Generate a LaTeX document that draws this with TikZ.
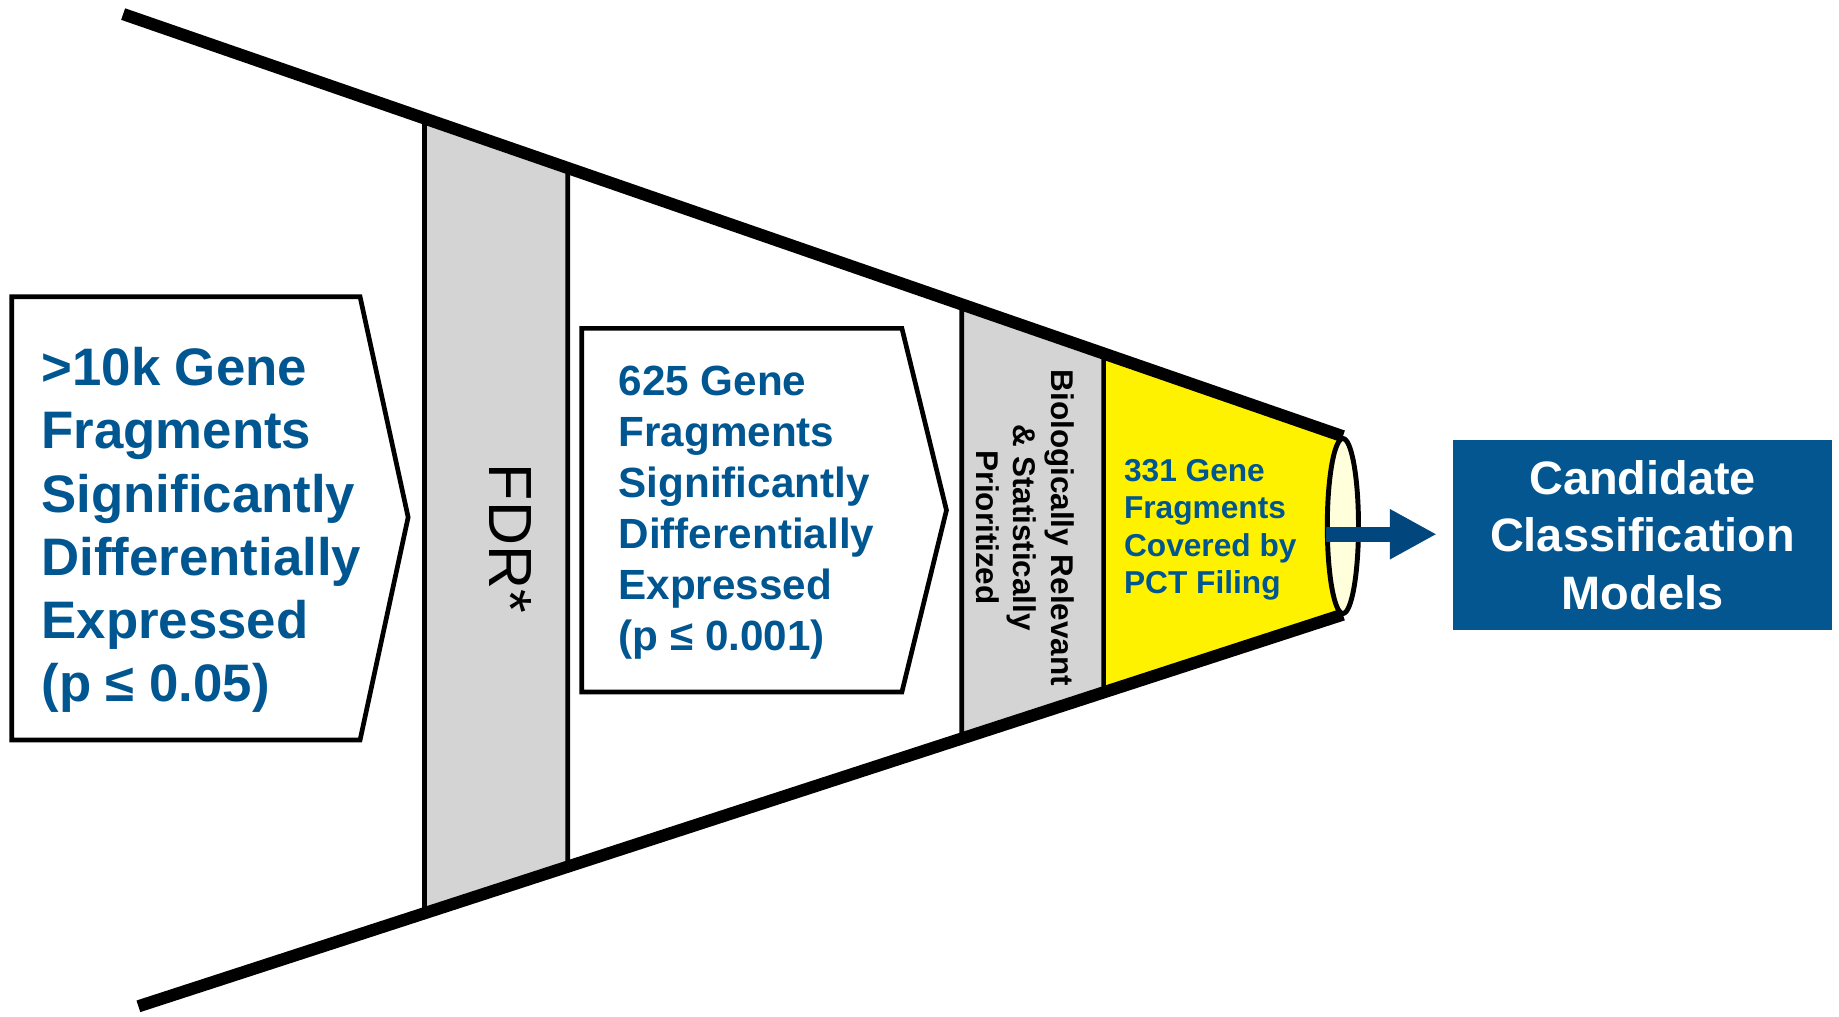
\documentclass[tikz,border=0pt]{standalone}
\usepackage{fontspec}
\setmainfont{Liberation Sans}
\usetikzlibrary{calc,arrows.meta,shapes.geometric}
\definecolor{textblue}{HTML}{005691}
\definecolor{boxblue}{HTML}{03568F}
\definecolor{arrowblue}{HTML}{02467E}
\definecolor{bandgray}{HTML}{D4D4D4}
\definecolor{mouthfill}{HTML}{FFFFDC}

\begin{document}
\begin{tikzpicture}[x=0.5pt,y=-0.5pt,
  funnel/.style={line width=5.2pt},
  divider/.style={line width=2pt},
  tag/.style={draw=black, fill=white, line width=2pt, line join=miter},
  bluetext/.style={text=textblue, anchor=north west, inner sep=0pt, align=left},
  sidetext/.style={rotate=-90, inner sep=0pt, align=center, text=black}
]
\useasboundingbox (0,0) rectangle (1568,867);

% funnel edges
\coordinate (A) at (105,12);
\coordinate (E) at (1145,372);
\coordinate (B) at (118,858);
\coordinate (F) at (1145,524);

% band boundaries on the upper and lower edge
\coordinate (t1) at ($(A)!0.24712!(E)$);
\coordinate (t2) at ($(A)!0.36442!(E)$);
\coordinate (t3) at ($(A)!0.68750!(E)$);
\coordinate (t4) at ($(A)!0.80385!(E)$);
\coordinate (b1) at ($(B)!0.23759!(F)$);
\coordinate (b2) at ($(B)!0.35638!(F)$);
\coordinate (b3) at ($(B)!0.68355!(F)$);
\coordinate (b4) at ($(B)!0.80136!(F)$);

% band fills
\fill[bandgray] (t1) -- (t2) -- (b2) -- (b1) -- cycle;
\fill[bandgray] (t3) -- (t4) -- (b4) -- (b3) -- cycle;
\fill[yellow] (t4) -- (E) -- (F) -- (b4) -- cycle;

% band dividers and funnel walls
\draw[divider] (t1) -- (b1) (t2) -- (b2) (t3) -- (b3) (t4) -- (b4);
\draw[funnel] (A) -- (E);
\draw[funnel] (B) -- (F);

% pentagon tags
\draw[tag] (10,253) -- (307,253) -- (348,441) -- (307,631) -- (10,631) -- cycle;
\draw[tag] (496,280) -- (769,280) -- (807,435) -- (769,590) -- (496,590) -- cycle;

% funnel mouth
\node[ellipse, draw, line width=2.1pt, fill=mouthfill, minimum width=13.3pt,
      minimum height=74.6pt, inner sep=0pt] (mouth) at (1145,448.5) {};

% output box
\node[fill=boxblue, text=white, align=center, inner sep=0pt,
      minimum width=161.5pt, minimum height=81pt,
      font=\bfseries\fontsize{20}{24.5}\selectfont] (models) at (1400.5,456)
      {Candidate\\Classification\\Models};

% arrow from the mouth to the box
\coordinate (shaft) at (1131,455.5);
\coordinate (tip) at (1225,455.5);
\draw[arrowblue, line width=6.5pt, -{Triangle[length=20pt,width=20pt]}] (shaft) -- (tip);

% texts
\node[bluetext, font=\bfseries\fontsize{22.5}{26.9}\selectfont] (first) at (35,296)
  {>10k Gene\\Fragments\\Significantly\\Differentially\\Expressed\\(p ≤ 0.05)};
\node[bluetext, font=\bfseries\fontsize{18}{21.7}\selectfont] (second) at (527,312)
  {625 Gene\\Fragments\\Significantly\\Differentially\\Expressed\\(p ≤ 0.001)};
\node[bluetext, font=\bfseries\fontsize{13.5}{16}\selectfont] (third) at (958,391)
  {331 Gene\\Fragments\\Covered by\\PCT Filing};
\node[sidetext, font=\fontsize{26}{30}\selectfont] (fdr) at (435,459) {FDR*};
\node[sidetext, font=\bfseries\fontsize{13.4}{16}\selectfont] (prio) at (874,450)
  {Biologically Relevant\\\& Statistically\\Prioritized};
\end{tikzpicture}
\end{document}
